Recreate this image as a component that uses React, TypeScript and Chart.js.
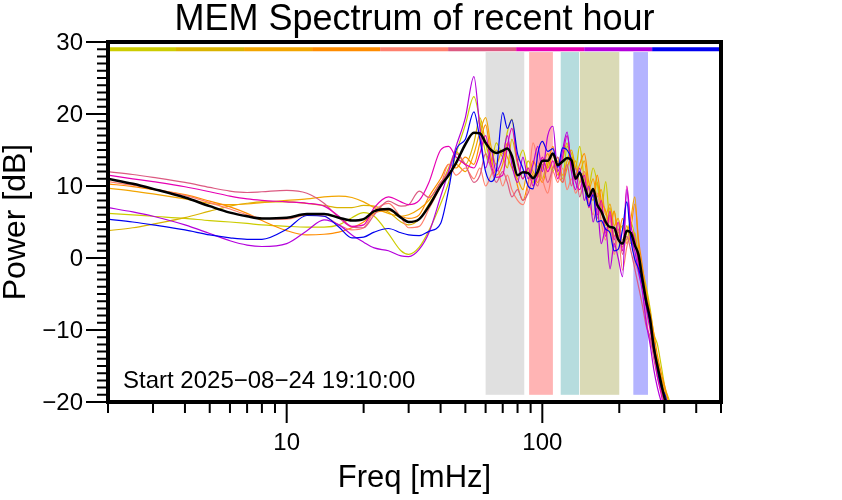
import React, { useEffect, useRef } from 'react';
import { Chart, registerables } from 'chart.js';
Chart.register(...registerables);

const title = 'MEM Spectrum of recent hour';
const xTitle = 'Freq [mHz]';
const yTitle = 'Power [dB]';
const startLabel = 'Start 2025\u221208\u221224 19:10:00';

const xMin = 2;
const xMax = 500;
const yMin = -20;
const yMax = 30;
const xMajorTicks = [10, 100];
const xMajorLabels = ['10', '100'];
const xMinorTicks = [2, 3, 4, 5, 6, 7, 8, 9, 20, 30, 40, 50, 60, 70, 80, 90, 200, 300, 400, 500];
const yMajorTicks = [30, 20, 10, 0, -10, -20];
const yMajorLabels = ['30', '20', '10', '0', '\u221210', '\u221220'];
const yMinorTicks = Array.from({ length: 51 }, (_, i) => -20 + i);

const freqs = [2, 2.5, 3, 4, 5, 6, 7, 8, 10, 12, 14, 16, 18, 20, 22, 25, 28, 30, 33, 36,
  40, 43, 46, 50, 54, 57, 60, 63, 66, 70,
  73, 76, 80, 84, 88, 92, 96, 100, 105, 110,
  115, 120, 125, 130, 135, 140, 146, 152, 158, 164,
  170, 177, 184, 191, 198, 206, 214, 222, 230, 238,
  246, 255, 264, 273, 282, 292, 302, 312, 322];

const meanDb = [11.0, 10.3, 9.6, 8.4, 7.2, 6.3, 5.8, 5.5, 5.6, 6.1, 6.1, 5.6, 5.2, 5.4, 6.5, 6.8, 5.6, 5.0, 5.4, 7.2,
  10.0, 11.5, 13.2, 15.8, 17.4, 17.3, 16.0, 15.0, 14.6, 14.9,
  15.2, 14.2, 11.5, 11.9, 11.8, 11.1, 12.0, 13.5, 13.5, 14.5,
  12.9, 13.4, 13.9, 13.6, 11.0, 11.8, 10.0, 8.5, 9.6, 7.4,
  6.5, 5.0, 4.3, 4.2, 2.6, 2.0, 3.8, 3.5, 1.8, 0.4,
  -2.8, -6.0, -8.5, -12.5, -15.0, -17.5, -19.7, -21, -22];

const yellowDb = [6.2, 6.0, 5.8, 5.5, 5.2, 5.0, 4.8, 4.6, 4.4, 4.3, 4.3, 4.6, 5.6, 6.3, 5.8, 3.4, 1.0, 0.5, 1.5, 3.8,
  7.5, 10.5, 14.5, 18.5, 22.4, 19.0, 14.5, 13.0, 16.0, 14.5,
  17.5, 19.3, 13.5, 15.0, 12.0, 10.5, 12.8, 11.0, 13.5, 12.0,
  14.0, 11.0, 15.5, 14.5, 12.5, 15.5, 11.0, 10.0, 12.5, 10.4,
  6.5, 10.6, 5.0, 6.5, 3.5, 4.5, 2.5, 5.0, 3.0, 0.5,
  -1.5, -4.0, -7.0, -10.5, -12.0, -15.0, -18.0, -19.5, -21.0];

const goldDb = [3.8, 4.2, 4.7, 5.6, 6.5, 7.2, 7.6, 7.8, 7.8, 7.6, 7.3, 7.0, 7.0, 7.3, 7.2, 6.4, 5.0, 4.6, 5.4, 7.5,
  10.0, 12.5, 14.8, 13.0, 16.0, 19.5, 16.0, 13.5, 15.0, 14.0,
  12.5, 16.5, 13.0, 11.0, 13.5, 12.0, 11.2, 13.5, 12.5, 14.5,
  11.5, 13.5, 16.0, 12.0, 13.5, 10.5, 12.0, 9.5, 8.0, 10.5,
  7.0, 4.5, 7.0, 3.0, 4.0, 1.5, 4.5, 2.0, 3.5, -0.5,
  -3.0, -5.5, -9.0, -12.5, -14.0, -17.0, -19.0, -20.5, -22.0];

const orangeDb = [9.7, 9.3, 8.9, 8.2, 7.6, 7.4, 7.5, 7.7, 8.0, 8.2, 8.5, 8.6, 8.4, 7.8, 7.0, 6.2, 5.8, 6.0, 6.8, 8.0,
  10.5, 11.5, 13.0, 12.0, 14.5, 17.5, 19.5, 15.5, 13.0, 15.0,
  14.0, 12.5, 11.0, 9.5, 12.5, 11.5, 10.5, 12.5, 14.5, 12.5,
  13.5, 11.5, 13.5, 15.0, 12.5, 12.0, 13.5, 9.5, 11.0, 8.5,
  9.5, 6.0, 7.5, 4.5, 5.5, 2.5, 3.5, 5.5, 8.5, 1.5,
  -2.0, -4.5, -8.5, -11.0, -14.5, -16.5, -18.5, -20.5, -22.0];

const darkOrangeDb = [10.3, 9.9, 9.5, 8.8, 7.9, 7.1, 6.2, 5.2, 3.8, 3.2, 3.3, 3.6, 4.2, 5.0, 6.2, 6.6, 5.8, 5.5, 6.0, 8.5,
  11.0, 13.0, 12.5, 14.0, 13.0, 16.0, 18.5, 14.0, 11.5, 13.0,
  16.0, 14.0, 10.0, 8.0, 10.5, 13.5, 12.0, 10.5, 13.0, 15.5,
  12.0, 10.5, 12.5, 14.0, 11.5, 13.0, 14.5, 10.5, 8.5, 11.5,
  8.0, 6.5, 3.5, 6.5, 3.0, 5.5, 2.0, 4.0, 7.5, 2.5,
  -1.0, -5.0, -7.5, -10.5, -13.5, -16.0, -18.0, -20.0, -21.5];

const salmonDb = [10.6, 10.1, 9.6, 8.7, 7.7, 6.8, 6.0, 5.5, 5.4, 6.0, 5.8, 4.6, 3.9, 4.2, 6.5, 7.6, 5.6, 4.2, 4.4, 6.8,
  10.0, 13.0, 11.5, 12.5, 11.0, 12.5, 10.0, 11.5, 13.0, 10.0,
  11.5, 9.5, 8.0, 7.4, 10.0, 16.0, 13.5, 11.0, 9.0, 12.0,
  10.5, 12.5, 9.5, 11.0, 9.0, 10.5, 12.0, 8.0, 6.0, 9.0,
  5.0, 2.5, 5.5, 0.5, 3.0, -1.7, 1.5, 3.5, -0.5, -2.0,
  -4.5, -8.5, -11.5, -13.0, -15.5, -18.5, -20.0, -21.5, -23.0];

const pinkDb = [12.0, 11.6, 11.2, 10.5, 9.8, 9.3, 9.1, 9.2, 9.4, 9.0, 7.6, 5.6, 4.3, 4.2, 6.0, 7.9, 7.2, 7.4, 9.3, 8.4,
  10.5, 12.0, 14.5, 13.0, 10.5, 11.5, 14.5, 12.5, 10.5, 12.0,
  10.5, 8.5, 9.5, 8.0, 9.0, 11.0, 10.0, 13.0, 10.5, 12.5,
  14.0, 10.5, 13.0, 10.0, 12.5, 8.5, 10.5, 7.5, 9.0, 5.5,
  7.5, 3.5, 6.0, 1.5, 4.0, 0.5, 3.0, 1.0, -1.5, -4.0,
  -6.5, -9.5, -11.0, -14.0, -16.5, -18.5, -20.5, -22.0, -23.0];

const magentaDb = [11.5, 11.0, 10.6, 9.9, 9.2, 8.6, 8.2, 8.0, 7.8, 7.6, 7.2, 5.8, 4.4, 4.6, 7.0, 8.5, 7.8, 7.4, 8.0, 10.5,
  15.0, 15.5, 14.0, 13.0, 12.5, 14.5, 17.0, 13.0, 11.2, 11.5,
  15.5, 18.0, 13.5, 11.0, 12.5, 10.0, 11.5, 14.0, 12.0, 13.5,
  11.0, 14.0, 17.0, 13.0, 10.5, 9.5, 11.5, 7.0, 9.5, 6.0,
  8.0, 3.0, 6.5, 2.5, 5.0, 1.0, 10.0, 4.5, 2.5, -1.0,
  -3.5, -7.0, -10.0, -13.0, -16.5, -19.0, -21.5, -23.0, -24.0];

const purpleDb = [7.0, 6.4, 5.8, 4.6, 3.4, 2.4, 1.8, 1.6, 2.0, 3.8, 5.3, 4.6, 3.2, 2.2, 1.4, 1.0, 0.3, 0.2, 1.2, 3.5,
  8.5, 12.0, 15.5, 19.5, 25.2, 18.0, 12.5, 15.0, 12.0, 14.0,
  17.0, 13.0, 10.5, 14.0, 11.0, 13.0, 15.5, 12.0, 17.0, 18.3,
  12.0, 15.0, 17.5, 12.0, 9.5, 12.5, 8.0, 10.0, 5.0, 7.0,
  2.0, 4.0, -1.5, 2.0, 0.0, -2.6, 9.5, 3.0, 1.0, -2.0,
  -4.5, -9.0, -12.0, -15.5, -18.0, -20.0, -21.5, -23.0, -24.0];

const blueDb = [5.4, 5.0, 4.6, 3.9, 3.2, 2.8, 2.6, 2.6, 4.0, 5.9, 5.8, 4.3, 2.8, 2.9, 3.6, 4.1, 3.5, 3.2, 3.1, 3.7,
  4.8, 9.5, 15.0, 16.5, 20.3, 16.5, 12.0, 10.6, 12.0, 20.2,
  18.0, 19.2, 14.5, 12.4, 10.0, 9.6, 14.5, 16.2, 14.8, 15.2,
  12.6, 15.3, 15.0, 13.7, 11.0, 12.0, 10.0, 7.2, 8.8, 5.0,
  5.2, 4.0, 3.5, 1.0, 1.2, 4.0, 7.8, 2.5, -0.2, -1.5,
  -3.5, -6.5, -9.0, -12.0, -15.5, -18.0, -19.0, -21.0, -22.5];

const seriesValues = [yellowDb, goldDb, orangeDb, darkOrangeDb, salmonDb, pinkDb, magentaDb, purpleDb, blueDb];
const seriesColors = ['#cccc00', '#d9b300', '#f2a500', '#ff8c00', '#ff806e', '#dc5a82', '#e600b4', '#b400dc', '#0000f0'];

const bandStart = [60, 88.8, 118, 140.3, 227];
const bandEnd = [85, 110, 139.3, 200, 259];
const bandColors = ['#e0e0e0', '#ffb4b4', '#b6dcde', '#dadab6', '#b4b4ff'];
const bandTop = 28.6;
const bandBottom = -19;

const stripEdges = [2, 3.69, 6.81, 12.57, 23.2, 42.8, 79.0, 145.8, 268.9, 496];
const stripLevel = 29;

const FONT = '"Liberation Sans", Arial, Helvetica, sans-serif';

const deco = {
  id: 'deco',
  beforeDatasetsDraw(chart: any) {
    const { ctx, chartArea: a, scales } = chart;
    const xs = scales.x, ys = scales.y;
    ctx.save();
    ctx.beginPath();
    ctx.rect(a.left, a.top, a.right - a.left, a.bottom - a.top);
    ctx.clip();
    for (let i = 0; i < bandStart.length; i++) {
      const x0 = xs.getPixelForValue(bandStart[i]);
      const x1 = xs.getPixelForValue(bandEnd[i]);
      const y0 = ys.getPixelForValue(bandTop);
      const y1 = ys.getPixelForValue(bandBottom);
      ctx.fillStyle = bandColors[i];
      ctx.fillRect(x0, y0, x1 - x0, y1 - y0);
    }
    ctx.restore();
  },
  afterDatasetsDraw(chart: any) {
    const { ctx, chartArea: a, scales } = chart;
    const xs = scales.x, ys = scales.y;
    ctx.save();
    // colour strip
    const sy = ys.getPixelForValue(stripLevel);
    ctx.lineWidth = 4;
    ctx.lineCap = 'butt';
    for (let i = 0; i < stripEdges.length - 1; i++) {
      ctx.strokeStyle = seriesColors[i];
      ctx.beginPath();
      ctx.moveTo(xs.getPixelForValue(stripEdges[i]), sy);
      ctx.lineTo(xs.getPixelForValue(stripEdges[i + 1]), sy);
      ctx.stroke();
    }
    // frame
    ctx.strokeStyle = '#000';
    ctx.lineWidth = 4;
    ctx.strokeRect(a.left, a.top, a.right - a.left, a.bottom - a.top);
    // ticks
    ctx.lineWidth = 2;
    ctx.beginPath();
    for (const t of yMinorTicks) {
      const y = ys.getPixelForValue(t);
      ctx.moveTo(a.left - 11, y);
      ctx.lineTo(a.left, y);
    }
    for (const t of yMajorTicks) {
      const y = ys.getPixelForValue(t);
      ctx.moveTo(a.left - 22, y);
      ctx.lineTo(a.left, y);
    }
    for (const t of xMinorTicks) {
      const x = xs.getPixelForValue(t);
      ctx.moveTo(x, a.bottom);
      ctx.lineTo(x, a.bottom + 11);
    }
    for (const t of xMajorTicks) {
      const x = xs.getPixelForValue(t);
      ctx.moveTo(x, a.bottom);
      ctx.lineTo(x, a.bottom + 21);
    }
    ctx.stroke();
    // tick labels
    ctx.fillStyle = '#000';
    ctx.font = `24px ${FONT}`;
    ctx.textAlign = 'right';
    ctx.textBaseline = 'middle';
    yMajorTicks.forEach((t, i) => {
      ctx.fillText(yMajorLabels[i], a.left - 25, ys.getPixelForValue(t) + 1);
    });
    ctx.textAlign = 'center';
    ctx.textBaseline = 'alphabetic';
    xMajorTicks.forEach((t, i) => {
      ctx.fillText(xMajorLabels[i], xs.getPixelForValue(t), 450);
    });
    // titles
    const cx = (a.left + a.right) / 2;
    ctx.font = `36px ${FONT}`;
    ctx.fillText(title, cx, 30);
    ctx.font = `31px ${FONT}`;
    ctx.fillText(xTitle, cx, 487);
    ctx.save();
    ctx.translate(25, (a.top + a.bottom) / 2);
    ctx.rotate(-Math.PI / 2);
    ctx.font = `32px ${FONT}`;
    ctx.fillText(yTitle, 0, 0);
    ctx.restore();
    // start label
    ctx.font = `24px ${FONT}`;
    ctx.textAlign = 'left';
    ctx.fillText(startLabel, 123, 388);
    ctx.restore();
  },
};

export default function App() {
  const ref = useRef<HTMLCanvasElement>(null);
  useEffect(() => {
    document.body.style.margin = '0';
    const mk = (vals: number[]) => freqs.map((f, i) => ({ x: f, y: vals[i] }));
    const datasets: any[] = [
      {
        label: 'mean',
        data: mk(meanDb),
        borderColor: '#000000',
        borderWidth: 2.5,
        pointRadius: 0,
        cubicInterpolationMode: 'monotone',
        clip: 0,
      },
      ...seriesValues.map((vals, i) => ({
        label: 's' + i,
        data: mk(vals),
        borderColor: seriesColors[i],
        borderWidth: 1.2,
        pointRadius: 0,
        cubicInterpolationMode: 'monotone',
        clip: 0,
      })).reverse(),
    ];
    const chart = new Chart(ref.current as HTMLCanvasElement, {
      type: 'line',
      data: { datasets },
      options: {
        responsive: false,
        devicePixelRatio: 1,
        animation: false,
        parsing: true,
        layout: { padding: { left: 108, right: 121, top: 42, bottom: 98 } },
        plugins: {
          legend: { display: false },
          tooltip: { enabled: false },
          title: { display: false },
        },
        scales: {
          x: { type: 'logarithmic', min: xMin, max: xMax, display: false },
          y: { type: 'linear', min: yMin, max: yMax, display: false },
        },
      },
      plugins: [deco],
    });
    return () => chart.destroy();
  }, []);
  return (
    <div style={{ width: 842, height: 500 }}>
      <canvas ref={ref} width={842} height={500} style={{ display: 'block' }} />
    </div>
  );
}
